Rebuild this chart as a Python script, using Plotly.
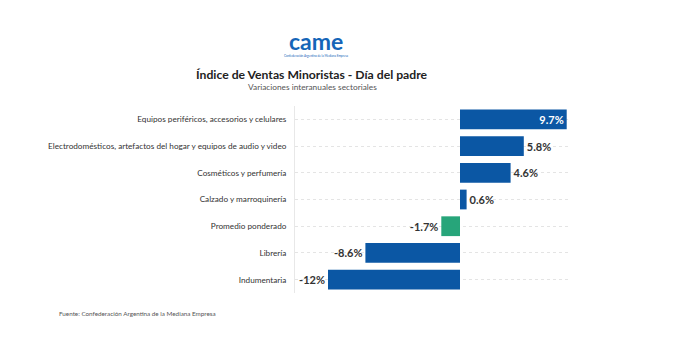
import plotly.graph_objects as go

categories = [
    "Equipos periféricos, accesorios y celulares",
    "Electrodomésticos, artefactos del hogar y equipos de audio y video",
    "Cosméticos y perfumería",
    "Calzado y marroquinería",
    "Promedio ponderado",
    "Librería",
    "Indumentaria",
]
values = [9.7, 5.8, 4.6, 0.6, -1.7, -8.6, -12.0]
labels = ["9.7%", "5.8%", "4.6%", "0.6%", "-1.7%", "-8.6%", "-12%"]
colors = ["#0b57a4", "#0b57a4", "#0b57a4", "#0b57a4", "#27a57a", "#0b57a4", "#0b57a4"]
positions = ["inside", "outside", "outside", "outside", "outside", "outside", "outside"]

FONT = "Lato, Noto Sans, sans-serif"

W, H = 681, 356
L, R, T, B = 295, 111, 106, 63
PW, PH = W - L - R, H - T - B


def px(x):
    return (x - L) / PW


def py(y):
    return 1 - (y - T) / PH


fig = go.Figure(go.Bar(
    y=categories, x=values, orientation="h",
    marker=dict(color=colors, line=dict(width=0)),
    text=labels, texttemplate="<b>%{text}</b>", textposition=positions,
    insidetextanchor="end",
    outsidetextfont=dict(family=FONT, size=11, color="#333333"),
    insidetextfont=dict(family=FONT, size=11, color="#ffffff"),
    cliponaxis=False, width=0.74,
))

fig.update_layout(
    width=W, height=H,
    margin=dict(l=L, r=R, t=T, b=B, autoexpand=False),
    plot_bgcolor="white", paper_bgcolor="white",
    showlegend=False,
    font=dict(family=FONT, color="#333333"),
)
fig.update_yaxes(
    autorange="reversed", showgrid=True, gridcolor="#e4e4e4", griddash="dot",
    tickfont=dict(family=FONT, size=8.2, color="#333333"),
    ticks="", ticklabelstandoff=6, showline=True, linecolor="#e8e8e8", linewidth=1,
)
fig.update_xaxes(
    range=[-15, 10], showgrid=False, zeroline=False, showticklabels=False, ticks="",
)

fig.add_annotation(xref="paper", yref="paper", x=px(312), y=py(74), xanchor="center", yanchor="middle",
                   text="<b>Índice de Ventas Minoristas - Día del padre</b>", showarrow=False,
                   font=dict(family=FONT, size=12.2, color="#222222"))
fig.add_annotation(xref="paper", yref="paper", x=px(312), y=py(87), xanchor="center", yanchor="middle",
                   text="Variaciones interanuales sectoriales", showarrow=False,
                   font=dict(family=FONT, size=8.3, color="#555555"))
fig.add_annotation(xref="paper", yref="paper", x=px(316), y=py(41), xanchor="center", yanchor="middle",
                   text="<b>came</b>", showarrow=False,
                   font=dict(family="Lato, sans-serif", size=23, color="#1565b8"))
fig.add_annotation(xref="paper", yref="paper", x=px(316), y=py(56), xanchor="center", yanchor="middle",
                   text="Confederación Argentina de la Mediana Empresa", showarrow=False,
                   font=dict(family=FONT, size=3, color="#1565b8"))
fig.add_annotation(xref="paper", yref="paper", x=px(57), y=py(313), xanchor="left", yanchor="middle",
                   text="Fuente: Confederación Argentina de la Mediana Empresa", showarrow=False,
                   font=dict(family=FONT, size=6.3, color="#555555"))

fig.write_html("out.html", config={"displayModeBar": False},
               post_script="document.body.style.margin='0px';")
